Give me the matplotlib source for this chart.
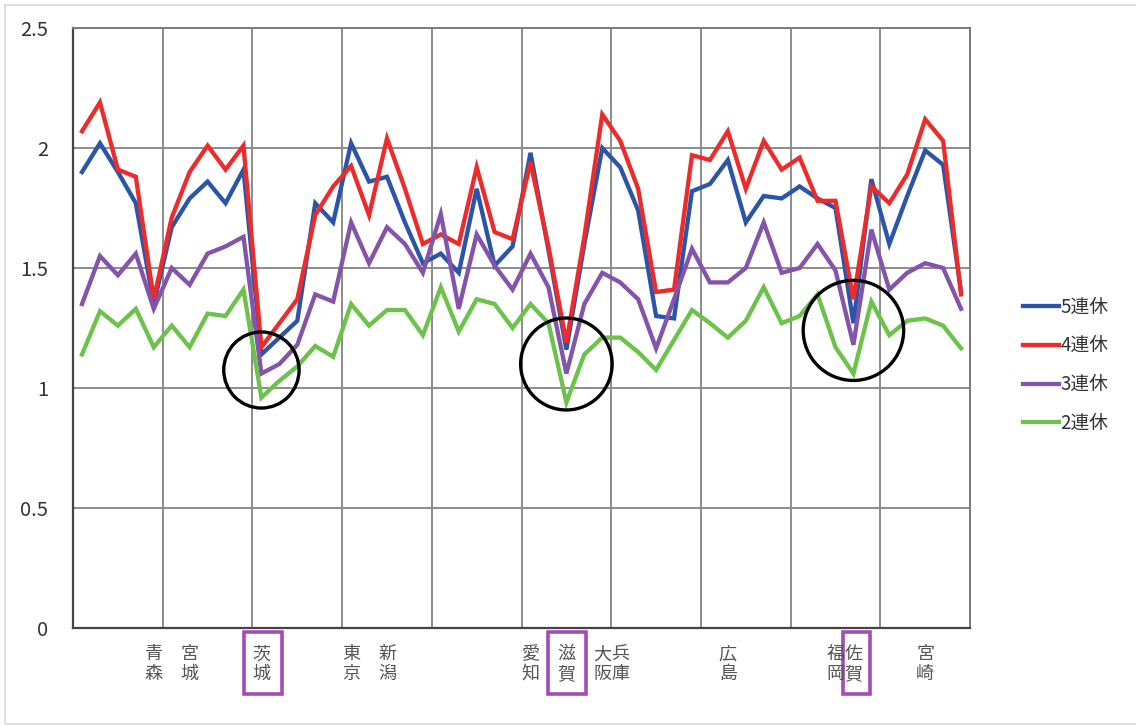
import numpy as np
import matplotlib.pyplot as plt
from matplotlib.patches import Ellipse, Rectangle
from matplotlib.transforms import blended_transform_factory

plt.rcParams['font.family'] = ['Noto Sans CJK JP', 'DejaVu Sans']

# 50 regions: Hokkaido split into 4 areas, then the other 46 prefectures
x = np.arange(1, 51)

renkyu5 = [1.90, 2.02, 1.90, 1.77, 1.35, 1.67, 1.79, 1.86, 1.77, 1.91,
           1.14, 1.21, 1.28, 1.77, 1.69, 2.02, 1.86, 1.88, 1.69, 1.52,
           1.56, 1.48, 1.83, 1.51, 1.59, 1.98, 1.575, 1.16, 1.60, 2.00,
           1.92, 1.74, 1.30, 1.29, 1.82, 1.85, 1.95, 1.69, 1.80, 1.79,
           1.84, 1.79, 1.75, 1.27, 1.87, 1.60, 1.80, 1.99, 1.93, 1.40]
renkyu4 = [2.07, 2.19, 1.91, 1.88, 1.37, 1.71, 1.90, 2.01, 1.91, 2.01,
           1.17, 1.27, 1.37, 1.72, 1.84, 1.925, 1.72, 2.04, 1.83, 1.60,
           1.64, 1.60, 1.92, 1.65, 1.62, 1.94, 1.59, 1.19, 1.63, 2.14,
           2.03, 1.83, 1.40, 1.41, 1.97, 1.95, 2.07, 1.83, 2.03, 1.91,
           1.96, 1.78, 1.78, 1.37, 1.84, 1.77, 1.89, 2.12, 2.03, 1.39]
renkyu3 = [1.35, 1.55, 1.47, 1.56, 1.33, 1.50, 1.43, 1.56, 1.59, 1.63,
           1.06, 1.10, 1.18, 1.39, 1.36, 1.69, 1.52, 1.67, 1.60, 1.48,
           1.725, 1.33, 1.64, 1.51, 1.41, 1.56, 1.42, 1.06, 1.35, 1.48,
           1.44, 1.37, 1.165, 1.37, 1.58, 1.44, 1.44, 1.50, 1.69, 1.48,
           1.50, 1.60, 1.49, 1.18, 1.66, 1.41, 1.48, 1.52, 1.50, 1.33]
renkyu2 = [1.14, 1.32, 1.26, 1.33, 1.17, 1.26, 1.17, 1.31, 1.30, 1.41,
           0.96, 1.03, 1.09, 1.175, 1.13, 1.35, 1.26, 1.325, 1.325, 1.22,
           1.42, 1.235, 1.37, 1.35, 1.25, 1.35, 1.27, 0.94, 1.14, 1.21,
           1.21, 1.15, 1.075, 1.20, 1.325, 1.27, 1.21, 1.28, 1.42, 1.27,
           1.30, 1.39, 1.17, 1.06, 1.36, 1.22, 1.28, 1.29, 1.26, 1.165]

series_names = ['5連休', '4連休', '3連休', '2連休']
series_colors = ['#2b55a8', '#ee2b2b', '#8354aa', '#6cc24a']

# prefectures named under the axis (position, name)
label_pos = [5, 7, 11, 16, 18, 26, 28, 30, 31, 37, 43, 44, 48]
label_names = ['青森', '宮城', '茨城', '東京', '新潟', '愛知', '滋賀',
               '大阪', '兵庫', '広島', '福岡', '佐賀', '宮崎']
boxed_pos = [11.1, 28.05, 44.15]
boxed_width = [2.15, 2.1, 1.5]

# circled dips: (x centre, y centre, width, height)
circle_x = [11.0, 28.0, 44.0]
circle_y = [1.075, 1.10, 1.24]
circle_w = [4.2, 5.1, 5.6]
circle_h = [0.317, 0.383, 0.417]

fig = plt.figure(figsize=(11.36, 7.26), dpi=100)
ax = fig.add_axes([0.0643, 0.135, 0.7896, 0.8264])

for vals, name, col in zip([renkyu5, renkyu4, renkyu3, renkyu2], series_names, series_colors):
    ax.plot(x, vals, color=col, lw=3.1, label=name, solid_joinstyle='miter')

for cx, cy, w, h in zip(circle_x, circle_y, circle_w, circle_h):
    ax.add_patch(Ellipse((cx, cy), w, h, fill=False, edgecolor='black', lw=2.4, zorder=5))

ax.set_xlim(0.5, 50.5)
ax.set_ylim(0, 2.5)
ax.set_xticks(np.arange(0.5, 51, 5))
ax.set_xticklabels([])
ax.set_yticks(np.arange(0, 2.51, 0.5))
ax.set_yticklabels(['0', '0.5', '1', '1.5', '2', '2.5'])
ax.tick_params(length=0, labelsize=14.5, labelcolor='#333333', pad=18)
ax.grid(True, color='#8c8c8c', lw=1.4)
ax.set_axisbelow(True)
for side in ['top', 'right']:
    ax.spines[side].set_color('#7a7a7a')
    ax.spines[side].set_linewidth(1.4)
for side in ['left', 'bottom']:
    ax.spines[side].set_color('#444444')
    ax.spines[side].set_linewidth(1.6)

trans = blended_transform_factory(ax.transData, ax.transAxes)
for pos, name in zip(label_pos, label_names):
    ax.text(pos, -0.06, name[0] + '\n' + name[1], transform=trans,
            ha='center', va='center', fontsize=13, color='#555555', linespacing=1.1)
for pos, w in zip(boxed_pos, boxed_width):
    ax.add_patch(Rectangle((pos - w / 2, -0.11), w, 0.103, transform=trans,
                           fill=False, edgecolor='#a24db5', lw=2.6, clip_on=False))

fig.legend(loc='center left', bbox_to_anchor=(1023 / 1136, 0.497), frameon=False,
           fontsize=13.5, handlelength=1.9, handletextpad=0.1, labelspacing=0.95,
           borderpad=0, borderaxespad=0, labelcolor='#333333')

# light frame around the chart area
fig.patches.append(Rectangle((5 / 1136, 2 / 726), 1.0, 719 / 726, transform=fig.transFigure,
                             fill=False, edgecolor='#d9d9d9', lw=1.2))

fig.savefig('out.png', dpi=100)
